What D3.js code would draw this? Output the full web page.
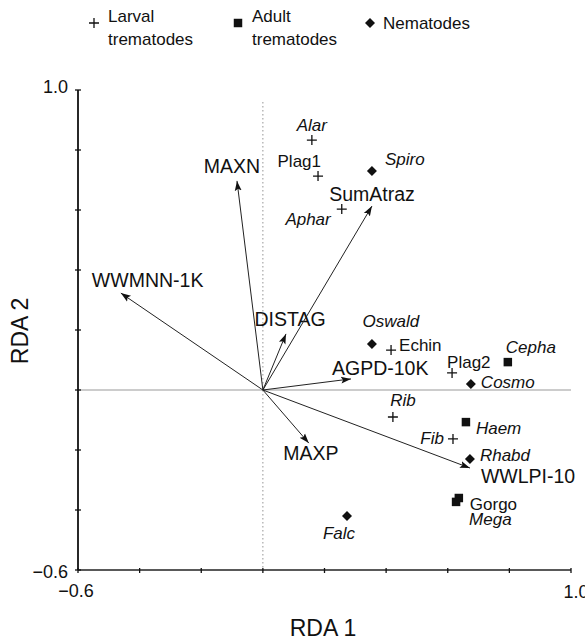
<!DOCTYPE html>
<html lang="en">
<head>
<meta charset="UTF-8">
<title>RDA biplot</title>
<script src="https://d3js.org/d3.v7.min.js"></script>
<style>
  body { margin: 0; background: #fff; }
  text { font-family: "Liberation Sans", Arial, sans-serif; fill: #111; }
</style>
</head>
<body>
<script>
// environmental vectors (arrow tips, RDA1 / RDA2)
const envNames = ["MAXN", "WWMNN-1K", "DISTAG", "SumAtraz", "AGPD-10K", "MAXP", "WWLPI-10"];
const envX = [-0.084, -0.461, 0.075, 0.354, 0.286, 0.149, 0.672];
const envY = [0.697, 0.323, 0.187, 0.613, 0.037, -0.177, -0.260];

// parasite taxa
const taxNames = ["Alar", "Plag1", "Aphar", "Echin", "Plag2", "Rib", "Fib",
                  "Cepha", "Haem", "Gorgo", "Mega",
                  "Spiro", "Oswald", "Cosmo", "Rhabd", "Falc"];
const taxGroup = ["larval", "larval", "larval", "larval", "larval", "larval", "larval",
                  "adult", "adult", "adult", "adult",
                  "nema", "nema", "nema", "nema", "nema"];
const taxX = [0.159, 0.179, 0.256, 0.416, 0.614, 0.422, 0.617,
              0.795, 0.659, 0.636, 0.627,
              0.354, 0.354, 0.675, 0.672, 0.273];
const taxY = [0.833, 0.713, 0.603, 0.133, 0.057, -0.090, -0.163,
              0.093, -0.107, -0.360, -0.373,
              0.730, 0.153, 0.020, -0.230, -0.420];
const taxItalic = [true, false, true, false, false, true, true,
                   true, true, false, true,
                   true, true, true, true, true];

const legendGroups = ["larval", "adult", "nema"];
const legendLabels = [["Larval", "trematodes"], ["Adult", "trematodes"], ["Nematodes"]];

const axisDomain = [-0.6, 1.0];

// label placement (pixel offsets from the mark)
const envLabelPos = [
  [-5, -15, "middle"], [-29, -13, "start"], [4, -15, "middle"], [0, -12, "middle"],
  [-19, -11, "start"], [2, 10, "middle"], [11, 8, "start"]
];
const taxLabelPos = [
  [0, -15, "middle"], [3, -15, "end"], [-11, 10, "end"], [8, -5, "start"],
  [-5, -10, "start"], [10, -17, "middle"], [-9, 0, "end"],
  [-2, -15, "start"], [10, 6, "start"], [11, 6, "start"], [13, 18, "start"],
  [13, -12, "start"], [19, -23, "middle"], [10, -2, "start"], [10, -4, "start"],
  [-8, 17, "middle"]
];

const W = 585, H = 641;
const svg = d3.select("body").append("svg").attr("width", W).attr("height", H);

const x = d3.scaleLinear().domain(axisDomain).range([78, 571]);
const y = d3.scaleLinear().domain(axisDomain).range([570, 90]);

// zero lines
svg.append("line")
  .attr("x1", x(-0.6)).attr("x2", x(1.0)).attr("y1", y(0)).attr("y2", y(0))
  .attr("stroke", "#999").attr("stroke-width", 1.2);
svg.append("line")
  .attr("x1", x(0)).attr("x2", x(0)).attr("y1", y(0.96)).attr("y2", y(-0.6))
  .attr("stroke", "#888").attr("stroke-width", 0.9).attr("stroke-dasharray", "1.5,2.5");

// axes
svg.append("line")
  .attr("x1", x(-0.6)).attr("x2", x(-0.6)).attr("y1", y(1.0)).attr("y2", y(-0.6))
  .attr("stroke", "#111").attr("stroke-width", 1.8);
svg.append("line")
  .attr("x1", x(-0.6)).attr("x2", x(1.0)).attr("y1", y(-0.6)).attr("y2", y(-0.6))
  .attr("stroke", "#222").attr("stroke-width", 1.5);

const ticks = d3.range(-0.6, 1.0001, 0.2);
svg.selectAll(".ytick").data(ticks).enter().append("line")
  .attr("x1", x(-0.6) - 3).attr("x2", x(-0.6) + 3)
  .attr("y1", d => y(d)).attr("y2", d => y(d))
  .attr("stroke", "#111").attr("stroke-width", 1.3);
svg.selectAll(".xtick").data(ticks).enter().append("line")
  .attr("y1", y(-0.6) - 2).attr("y2", y(-0.6) + 3)
  .attr("x1", d => x(d)).attr("x2", d => x(d))
  .attr("stroke", "#111").attr("stroke-width", 1.3);

const fmt = d => (d < 0 ? "\u2212" : "") + Math.abs(d).toFixed(1);
svg.append("text").attr("x", x(-0.6) - 10).attr("y", y(1.0) - 3)
  .attr("text-anchor", "end").attr("dominant-baseline", "central")
  .style("font-size", "18px").text(fmt(1.0));
svg.append("text").attr("x", x(-0.6) - 10).attr("y", y(-0.6) + 2)
  .attr("text-anchor", "end").attr("dominant-baseline", "central")
  .style("font-size", "18px").text(fmt(-0.6));
svg.append("text").attr("x", x(-0.6) - 2).attr("y", y(-0.6) + 21)
  .attr("text-anchor", "middle").attr("dominant-baseline", "central")
  .style("font-size", "18px").text(fmt(-0.6));
svg.append("text").attr("x", x(1.0) + 5).attr("y", y(-0.6) + 22)
  .attr("text-anchor", "middle").attr("dominant-baseline", "central")
  .style("font-size", "18px").text(fmt(1.0));

// axis titles
svg.append("text").attr("x", 323).attr("y", 628)
  .attr("text-anchor", "middle").attr("dominant-baseline", "central")
  .style("font-size", "23px").text("RDA 1");
svg.append("text").attr("transform", "translate(20,331) rotate(-90)")
  .attr("text-anchor", "middle").attr("dominant-baseline", "central")
  .style("font-size", "23px").text("RDA 2");

// arrows
svg.append("defs").append("marker")
  .attr("id", "head").attr("viewBox", "0 0 10 10")
  .attr("refX", 10).attr("refY", 5)
  .attr("markerWidth", 10).attr("markerHeight", 10)
  .attr("markerUnits", "userSpaceOnUse").attr("orient", "auto")
  .append("path").attr("d", "M0,1.5 L10,5 L0,8.5 L2,5 Z").attr("fill", "#111");

envNames.forEach((n, i) => {
  svg.append("line")
    .attr("x1", x(0)).attr("y1", y(0)).attr("x2", x(envX[i])).attr("y2", y(envY[i]))
    .attr("stroke", "#222").attr("stroke-width", 1)
    .attr("marker-end", "url(#head)");
  const p = envLabelPos[i];
  svg.append("text")
    .attr("x", x(envX[i]) + p[0]).attr("y", y(envY[i]) + p[1])
    .attr("text-anchor", p[2]).attr("dominant-baseline", "central")
    .style("font-size", "19.5px").text(n);
});

// symbols
function drawSymbol(g, group, cx, cy) {
  if (group === "larval") {
    g.append("path")
      .attr("d", `M${cx - 5},${cy} H${cx + 5} M${cx},${cy - 5} V${cy + 5}`)
      .attr("stroke", "#111").attr("stroke-width", 1.3).attr("fill", "none");
  } else if (group === "adult") {
    g.append("path").attr("transform", `translate(${cx},${cy})`)
      .attr("d", d3.symbol().type(d3.symbolSquare).size(72)()).attr("fill", "#111");
  } else {
    g.append("path")
      .attr("d", `M${cx},${cy - 5} L${cx + 5},${cy} L${cx},${cy + 5} L${cx - 5},${cy} Z`)
      .attr("fill", "#111");
  }
}

taxNames.forEach((n, i) => {
  const cx = x(taxX[i]), cy = y(taxY[i]);
  drawSymbol(svg, taxGroup[i], cx, cy);
  const p = taxLabelPos[i];
  svg.append("text")
    .attr("x", cx + p[0]).attr("y", cy + p[1])
    .attr("text-anchor", p[2]).attr("dominant-baseline", "central")
    .style("font-size", "17px").style("font-style", taxItalic[i] ? "italic" : "normal")
    .text(n);
});

// legend
const legendX = [94, 238, 370];
legendGroups.forEach((gname, i) => {
  drawSymbol(svg, gname, legendX[i], 23);
  const lines = legendLabels[i];
  lines.forEach((t, j) => {
    svg.append("text")
      .attr("x", legendX[i] + (gname === "nema" ? 13 : 14))
      .attr("y", lines.length === 1 ? 23 : 16 + j * 23)
      .attr("dominant-baseline", "central")
      .style("font-size", "17px").text(t);
  });
});
</script>
</body>
</html>
